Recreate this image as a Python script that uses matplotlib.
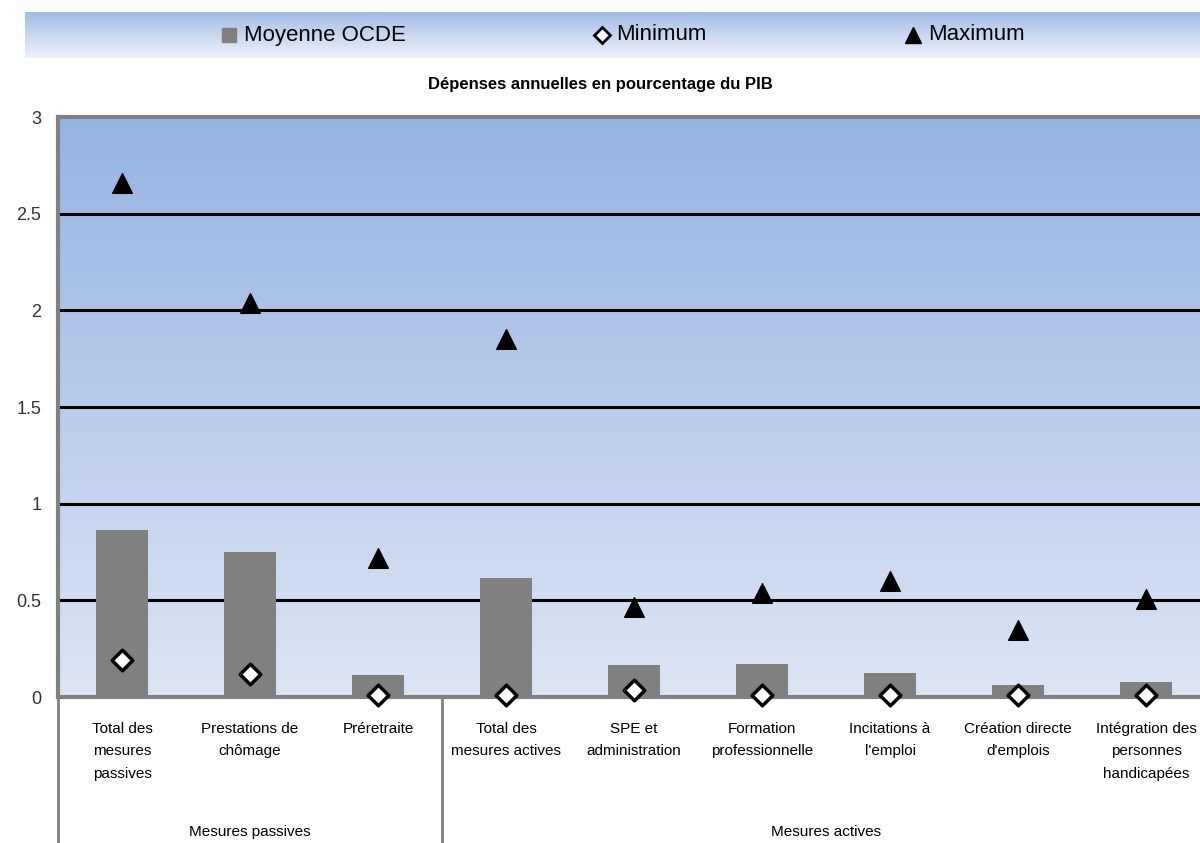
import matplotlib.pyplot as plt
import numpy as np
from matplotlib.colors import LinearSegmentedColormap

categories = ['Total des\nmesures\npassives', 'Prestations de\nchômage', 'Préretraite',
              'Total des\nmesures actives', 'SPE et\nadministration', 'Formation\nprofessionnelle',
              'Incitations à\nl\'emploi', 'Création directe\nd\'emplois', 'Intégration des\npersonnes\nhandicapées']
moyenne = [0.865, 0.75, 0.115, 0.615, 0.165, 0.17, 0.125, 0.062, 0.078]
minimum = [0.19, 0.12, 0.012, 0.012, 0.035, 0.012, 0.012, 0.012, 0.012]
maximum = [2.66, 2.04, 0.72, 1.85, 0.465, 0.54, 0.60, 0.345, 0.505]
groups = ['Mesures passives', 'Mesures actives']
group_sizes = [3, 6]

plt.rcParams['font.family'] = ['Liberation Sans', 'DejaVu Sans']

fig = plt.figure(figsize=(12, 8.43), dpi=100)

# legend band with gradient
band = fig.add_axes([25/1200, 1-58/843, 1-25/1200, 46/843])
band_cmap = LinearSegmentedColormap.from_list('band', ['#a3bde6', '#edf1fa'])
band.imshow(np.linspace(0, 1, 100).reshape(-1, 1), aspect='auto', cmap=band_cmap,
            extent=[0, 1, 0, 1], origin='upper')
band.set_xlim(0, 1)
band.set_ylim(0, 1)
band.axis('off')
band.plot([204/1175], [0.5], marker='s', color='#808080', markersize=10)
band.text(219/1175, 0.5, 'Moyenne OCDE', va='center', fontsize=16)
band.plot([577/1175], [0.5], marker='D', markerfacecolor='white', markeredgecolor='black',
          markeredgewidth=2, markersize=8)
band.text(591/1175, 0.5, 'Minimum', va='center', fontsize=16)
band.plot([888/1175], [0.5], marker='^', color='black', markersize=11)
band.text(903/1175, 0.5, 'Maximum', va='center', fontsize=16)

fig.text(0.5, 1-84/843, 'Dépenses annuelles en pourcentage du PIB', ha='center', va='center',
         fontsize=12, fontweight='bold')

ax = fig.add_axes([58/1200, 1-697/843, 1152/1200, 580/843])
x = np.arange(len(categories))

bg_cmap = LinearSegmentedColormap.from_list('bg', ['#dde5f5', '#95b3e2'])
ax.imshow(np.linspace(1, 0, 200).reshape(-1, 1), aspect='auto', cmap=bg_cmap,
          extent=[-0.5, len(categories)-0.5, 0, 3], zorder=0)

for yv in [0.5, 1, 1.5, 2, 2.5]:
    ax.axhline(yv, color='black', lw=2.2, zorder=1)

ax.bar(x, moyenne, width=0.4, color='#808080', zorder=2)
ax.scatter(x, minimum, marker='D', s=110, facecolor='white', edgecolor='black', linewidth=2.5, zorder=3, clip_on=False)
ax.scatter(x, maximum, marker='^', s=200, color='black', zorder=3)

ax.set_xlim(-0.5, len(categories)-0.5)
ax.set_ylim(0, 3)
ax.set_yticks([0, 0.5, 1, 1.5, 2, 2.5, 3])
ax.set_yticklabels(['0', '0.5', '1', '1.5', '2', '2.5', '3'], fontsize=13, color='#333333')
ax.tick_params(axis='y', length=0, pad=12)
ax.set_xticks([])
for s in ['left', 'top', 'bottom']:
    ax.spines[s].set_color('#808080')
    ax.spines[s].set_linewidth(3)
ax.spines['right'].set_visible(False)

for i, c in enumerate(categories):
    ax.text(i, -0.13, c, ha='center', va='top', fontsize=11, linespacing=1.75)

start = -0.5
for g, n in zip(groups, group_sizes):
    ax.plot([start, start], [0, -0.76], color='#808080', lw=2, clip_on=False)
    ax.text(start + n/2, -0.70, g, ha='center', va='center', fontsize=11)
    start += n

fig.savefig('out.png', dpi=100)
